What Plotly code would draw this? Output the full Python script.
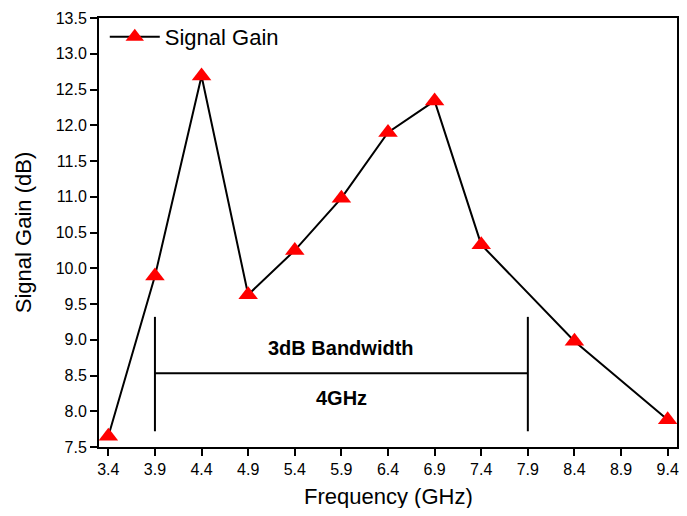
import plotly.graph_objects as go

freq_ghz = [3.4, 3.9, 4.4, 4.9, 5.4, 5.9, 6.4, 6.9, 7.4, 8.4, 9.4]
gain_db = [7.65, 9.89, 12.69, 9.63, 10.25, 10.98, 11.9, 12.34, 10.33, 8.98, 7.88]

x_ticks = [3.4, 3.9, 4.4, 4.9, 5.4, 5.9, 6.4, 6.9, 7.4, 7.9, 8.4, 8.9, 9.4]
y_ticks = [7.5, 8.0, 8.5, 9.0, 9.5, 10.0, 10.5, 11.0, 11.5, 12.0, 12.5, 13.0, 13.5]

# 3dB bandwidth marker
bw_start, bw_end = 3.9, 7.9
bw_bar_low, bw_bar_high = 7.72, 9.32
bw_level = 8.53

FONT = "Liberation Sans, Arial, sans-serif"

fig = go.Figure()

fig.add_trace(go.Scatter(
    x=freq_ghz, y=gain_db, mode="lines+markers", name="Signal Gain",
    line=dict(color="black", width=2),
    marker=dict(symbol="triangle-up", size=17, color="#ff0000",
                line=dict(width=0)),
))

# bandwidth bracket
fig.add_trace(go.Scatter(
    x=[bw_start, bw_start, None, bw_end, bw_end, None, bw_start, bw_end],
    y=[bw_bar_low, bw_bar_high, None, bw_bar_low, bw_bar_high, None, bw_level, bw_level],
    mode="lines", line=dict(color="black", width=2),
    hoverinfo="skip", showlegend=False,
))

mid = (bw_start + bw_end) / 2
fig.add_annotation(x=mid, y=8.88, text="<b>3dB Bandwidth</b>", showarrow=False,
                   font=dict(size=20, color="black", family=FONT))
fig.add_annotation(x=mid, y=8.19, text="<b>4GHz</b>", showarrow=False,
                   font=dict(size=20, color="black", family=FONT))

# x title as an annotation (standoff is ignored without automargin)
fig.add_annotation(x=0.5, y=0, xref="paper", yref="paper", yanchor="top",
                   yshift=-35, text="Frequency (GHz)", showarrow=False,
                   font=dict(size=22, color="black", family=FONT))

axis_common = dict(
    showline=True, linecolor="black", linewidth=2, mirror=True,
    ticks="outside", ticklen=7, tickwidth=2, tickcolor="black",
    showgrid=False, zeroline=False, automargin=False,
    tickfont=dict(size=16, color="black", family=FONT),
)

# page body has an 8px margin, so the figure is shrunk by 16px to fit the window
fig.update_layout(
    width=671, height=500,
    paper_bgcolor="white", plot_bgcolor="white",
    margin=dict(l=91, r=2, t=10, b=61),
    font=dict(family=FONT, color="black"),
    xaxis=dict(range=[3.3, 9.5], tickvals=x_ticks, ticktext=[f"{v:.1f}" for v in x_ticks],
               **axis_common),
    yaxis=dict(range=[7.5, 13.5], tickvals=y_ticks, ticktext=[f"{v:.1f}" for v in y_ticks],
               title=dict(text="Signal Gain (dB)", font=dict(size=22), standoff=18),
               **axis_common),
    legend=dict(x=0.01, y=1.005, xanchor="left", yanchor="top",
                bgcolor="rgba(0,0,0,0)", font=dict(size=22, color="black"),
                itemwidth=50),
)

fig.write_html("out.html")
